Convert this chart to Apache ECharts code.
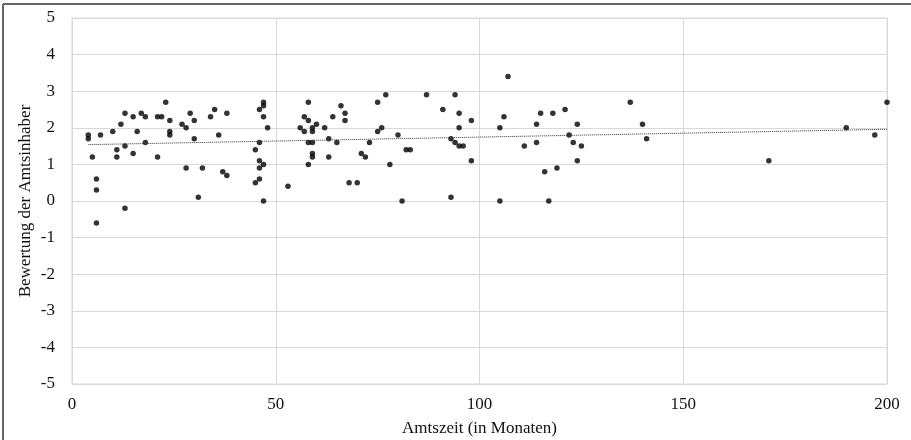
<!DOCTYPE html>
<html>
<head>
<meta charset="utf-8">
<script src="https://cdn.jsdelivr.net/npm/echarts@6/dist/echarts.min.js"></script>
<style>
  html, body { margin: 0; padding: 0; background: #fff; }
  #chart { width: 911px; height: 440px; }
</style>
</head>
<body>
<div id="chart"></div>
<script>
// Amtszeit in Monaten / Bewertung
const months = [
  4, 4, 5, 6, 6, 6, 7, 10, 11, 11, 12, 13, 13, 13, 15, 15, 16, 17, 18, 18,
  21, 22, 21, 23, 24, 24, 24, 27, 28, 28, 29, 30, 30, 31, 32, 34, 35, 36, 37, 38,
  38, 45, 45, 46, 46, 46, 46, 46, 47, 47, 47, 47, 47, 48, 53, 56, 57, 57, 58, 58,
  58, 58, 59, 59, 59, 59, 59, 60, 62, 63, 63, 64, 65, 66, 67, 67, 68, 70, 71, 72,
  73, 75, 75, 76, 77, 78, 80, 81, 82, 83, 87, 91, 93, 93, 94, 94, 95, 95, 95, 96,
  98, 98, 105, 106, 105, 107, 111, 114, 114, 115, 116, 117, 118, 119, 121, 122, 123, 124, 124, 125,
  137, 140, 141, 171, 190, 197, 200
];
const ratings = [
  1.8, 1.7, 1.2, 0.6, 0.3, -0.6, 1.8, 1.9, 1.4, 1.2, 2.1, 2.4, 1.5, -0.2, 2.3, 1.3, 1.9, 2.4, 2.3, 1.6,
  2.3, 2.3, 1.2, 2.7, 2.2, 1.9, 1.8, 2.1, 2.0, 0.9, 2.4, 2.2, 1.7, 0.1, 0.9, 2.3, 2.5, 1.8, 0.8, 0.7,
  2.4, 1.4, 0.5, 2.5, 1.6, 1.1, 0.9, 0.6, 2.7, 2.6, 2.3, 1.0, 0.0, 2.0, 0.4, 2.0, 2.3, 1.9, 2.7, 2.2,
  1.6, 1.0, 1.6, 2.0, 1.9, 1.3, 1.2, 2.1, 2.0, 1.7, 1.2, 2.3, 1.6, 2.6, 2.4, 2.2, 0.5, 0.5, 1.3, 1.2,
  1.6, 2.7, 1.9, 2.0, 2.9, 1.0, 1.8, 0.0, 1.4, 1.4, 2.9, 2.5, 1.7, 0.1, 2.9, 1.6, 2.4, 2.0, 1.5, 1.5,
  2.2, 1.1, 2.0, 2.3, 0.0, 3.4, 1.5, 2.1, 1.6, 2.4, 0.8, 0.0, 2.4, 0.9, 2.5, 1.8, 1.6, 2.1, 1.1, 1.5,
  2.7, 2.1, 1.7, 1.1, 2.0, 1.8, 2.7
];
// lineare Trendlinie (Endpunkte aus dem Bild)
const trendX = [4, 200];
const trendY = [1.54, 1.96];

const points = months.map((m, i) => [m, ratings[i]]);
const trend = trendX.map((x, i) => [x, trendY[i]]);

const font = '"Liberation Serif", "DejaVu Serif", serif';
const myChart = echarts.init(document.getElementById('chart'));
myChart.setOption({
  animation: false,
  backgroundColor: '#fff',
  grid: {
    left: 72, right: 24, top: 18, bottom: 56,
    outerBoundsMode: 'none',
    containLabel: false,
    show: true, borderColor: '#d9d9d9', borderWidth: 1
  },
  xAxis: {
    type: 'value',
    min: 0, max: 200, interval: 50,
    name: 'Amtszeit (in Monaten)',
    nameLocation: 'middle',
    nameGap: 36,
    nameTextStyle: { fontFamily: font, fontSize: 17, color: '#111' },
    axisLine: { show: false },
    axisTick: { show: false },
    axisLabel: { fontFamily: font, fontSize: 17, color: '#111', margin: 12 },
    splitLine: { lineStyle: { color: '#d9d9d9' } }
  },
  yAxis: {
    type: 'value',
    min: -5, max: 5, interval: 1,
    name: 'Bewertung der Amtsinhaber',
    nameLocation: 'middle',
    nameGap: 38,
    nameMoveOverlap: false,
    nameTextStyle: { fontFamily: font, fontSize: 17, color: '#111' },
    axisLine: { show: false },
    axisTick: { show: false },
    axisLabel: { fontFamily: font, fontSize: 17, color: '#111', margin: 17 },
    splitLine: { lineStyle: { color: '#d9d9d9' } }
  },
  graphic: [
    { type: 'line', shape: { x1: 3, y1: 4, x2: 911, y2: 4 }, style: { stroke: '#666', lineWidth: 2 } },
    { type: 'line', shape: { x1: 3, y1: 4, x2: 3, y2: 440 }, style: { stroke: '#666', lineWidth: 2 } }
  ],
  series: [
    {
      type: 'scatter',
      data: points,
      symbolSize: 5.5,
      itemStyle: { color: '#000' }
    },
    {
      type: 'line',
      data: trend,
      symbol: 'none',
      lineStyle: { color: '#333', width: 1, type: [1, 1] }
    }
  ]
});
</script>
</body>
</html>
